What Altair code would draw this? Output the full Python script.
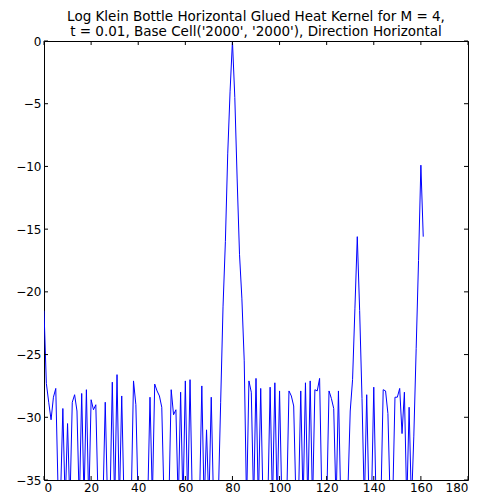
import altair as alt
import pandas as pd

# x positions 0..161
xs = list(range(162))
ys = [
    -21.5, -27.3, -28.8, -30.2, -28.4, -27.7, -36.0, -36.5, -29.3, -37.0,   # 0-9
    -30.5, -37.0, -28.8, -28.2, -29.5, -37.0, -28.1, -36.5, -27.8, -37.0,   # 10-19
    -28.6, -29.4, -29.0, -37.0, -38.0, -37.0, -28.8, -37.0, -37.0, -27.2,   # 20-29
    -37.0, -26.6, -37.0, -28.3, -37.0, -38.0, -38.0, -37.0, -27.1, -29.0,   # 30-39
    -37.0, -38.0, -38.0, -38.0, -37.0, -28.4, -36.5, -27.35, -27.9, -28.3,  # 40-49
    -29.2, -37.0, -38.0, -37.0, -27.8, -29.8, -29.4, -37.0, -28.0, -37.0,   # 50-59
    -27.1, -37.0, -27.0, -37.0, -38.0, -38.0, -37.0, -27.5, -37.0, -31.0,   # 60-69
    -37.0, -28.4, -37.0, -38.0, -36.5, -28.8, -21.2, -16.0, -9.0, -4.0,     # 70-79
    0.0, -4.5, -11.0, -17.0, -20.5, -25.5, -37.0, -27.1, -28.0, -37.0,      # 80-89
    -26.9, -37.0, -27.7, -37.0, -38.0, -37.0, -27.6, -37.0, -27.25, -37.0,  # 90-99
    -27.9, -37.0, -38.0, -37.0, -27.9, -28.3, -29.1, -37.0, -37.0, -27.9,   # 100-109
    -37.0, -27.25, -37.0, -27.1, -37.0, -27.8, -27.9, -26.9, -37.0, -38.0,  # 110-119
    -37.0, -27.9, -28.5, -29.3, -37.0, -27.9, -37.0, -38.0, -37.0, -36.0,   # 120-129
    -29.5, -27.0, -21.3, -15.6, -21.5, -28.5, -37.0, -28.2, -37.0, -37.0,   # 130-139
    -27.6, -37.0, -38.0, -37.0, -27.8, -27.9, -29.7, -37.0, -37.0, -28.4,   # 140-149
    -28.4, -27.7, -31.3, -28.0, -37.0, -29.2, -37.0, -31.5, -24.5, -17.5,   # 150-159
    -9.9, -15.6,                                                            # 160-161
]

xticks = [0, 20, 40, 60, 80, 100, 120, 140, 160, 180]
yticks = [0, -5, -10, -15, -20, -25, -30, -35]

title_lines = [
    "Log Klein Bottle Horizontal Glued Heat Kernel for M = 4,",
    "t = 0.01, Base Cell('2000', '2000'), Direction Horizontal",
]

W, H = 424, 439
FONT = "DejaVu Sans"

df = pd.DataFrame({"x": xs, "y": ys})
dx = pd.DataFrame({"xt": xticks})
dy = pd.DataFrame({"yt": yticks})

xscale = alt.Scale(domain=[0, 180], nice=False, zero=False)
yscale = alt.Scale(domain=[-35, 0], nice=False, zero=False)

line = alt.Chart(df).mark_line(color="#0000ff", strokeWidth=1, clip=True).encode(
    x=alt.X("x:Q", scale=xscale,
            axis=alt.Axis(values=xticks, title=None, grid=False, tickSize=0,
                          domain=False, labelPadding=2, labelFontSize=12,
                          labelFont=FONT, labelColor="black", format="d")),
    y=alt.Y("y:Q", scale=yscale,
            axis=alt.Axis(values=yticks, title=None, grid=False, tickSize=0,
                          domain=False, labelPadding=3, labelFontSize=12,
                          labelFont=FONT, labelColor="black", format="d")),
)

tick_len = 4
bottom_ticks = alt.Chart(dx).mark_rule(color="black", strokeWidth=1).encode(
    x=alt.X("xt:Q", scale=xscale), y=alt.value(H), y2=alt.value(H - tick_len))
top_ticks = alt.Chart(dx).mark_rule(color="black", strokeWidth=1).encode(
    x=alt.X("xt:Q", scale=xscale), y=alt.value(0), y2=alt.value(tick_len))
left_ticks = alt.Chart(dy).mark_rule(color="black", strokeWidth=1).encode(
    y=alt.Y("yt:Q", scale=yscale), x=alt.value(0), x2=alt.value(tick_len))
right_ticks = alt.Chart(dy).mark_rule(color="black", strokeWidth=1).encode(
    y=alt.Y("yt:Q", scale=yscale), x=alt.value(W), x2=alt.value(W - tick_len))

chart = alt.layer(line, bottom_ticks, top_ticks, left_ticks, right_ticks).properties(
    width=W, height=H,
    autosize=alt.AutoSizeParams(type="none"),
    padding={"left": 36, "top": 33, "right": 11, "bottom": 15},
    title=alt.TitleParams(text=title_lines, anchor="middle", fontSize=13.5,
                          font=FONT, fontWeight="normal", color="black",
                          offset=5, dy=8.5, lineHeight=15.5, frame="group"),
).configure(background="white").configure_view(stroke="black", strokeWidth=1)

chart.save("out.html", embed_options={"renderer": "svg", "actions": False})
